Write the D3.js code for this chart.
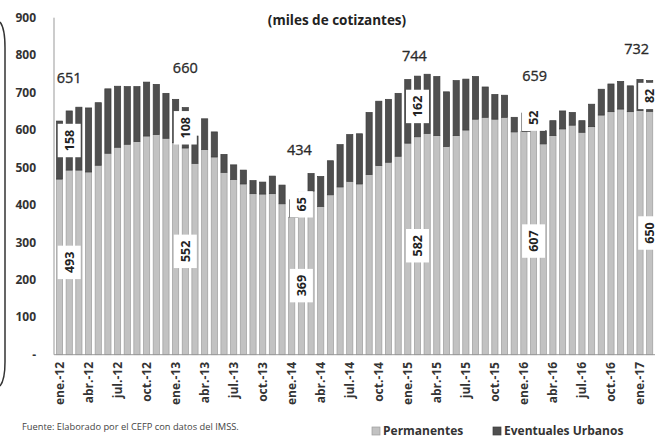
<!DOCTYPE html>
<html>
<head>
<meta charset="utf-8">
<script src="https://cdn.jsdelivr.net/npm/d3@7"></script>
<style>
body { margin: 0; background: #fff; }
svg { font-family: "Open Sans", "DejaVu Sans", sans-serif; }
</style>
</head>
<body>
<svg width="661" height="439"></svg>
<script>
//Months, ene.-12 to feb.-17
var meses = ["ene.-12","feb.-12","mar.-12","abr.-12","may.-12","jun.-12","jul.-12","ago.-12","sep.-12","oct.-12","nov.-12","dic.-12",
    "ene.-13","feb.-13","mar.-13","abr.-13","may.-13","jun.-13","jul.-13","ago.-13","sep.-13","oct.-13","nov.-13","dic.-13",
    "ene.-14","feb.-14","mar.-14","abr.-14","may.-14","jun.-14","jul.-14","ago.-14","sep.-14","oct.-14","nov.-14","dic.-14",
    "ene.-15","feb.-15","mar.-15","abr.-15","may.-15","jun.-15","jul.-15","ago.-15","sep.-15","oct.-15","nov.-15","dic.-15",
    "ene.-16","feb.-16","mar.-16","abr.-16","may.-16","jun.-16","jul.-16","ago.-16","sep.-16","oct.-16","nov.-16","dic.-16",
    "ene.-17","feb.-17"];

//Permanent workers (thousands)
var permanentes = [469,493,493,488,506,538,554,562,569,584,588,578,
    566,552,511,548,528,487,468,456,430,429,430,403,
    367,369,437,396,427,448,463,456,481,505,514,530,
    565,582,591,585,556,585,600,629,634,629,634,595,
    596,607,563,585,603,613,594,609,640,649,656,649,
    652,650];

//Urban temporary workers (thousands)
var eventuales = [155,158,168,171,167,172,163,154,147,144,134,120,
    116,108,73,82,67,48,39,37,35,32,47,50,
    0,65,47,80,91,113,125,134,166,172,168,168,
    170,162,158,158,146,147,136,114,81,66,59,39,
    0,52,35,40,48,34,31,60,69,74,74,69,
    83,82];

var yTicks = [0,100,200,300,400,500,600,700,800,900];

//Labelled months (February of each year)
var etiquetados = ["feb.-12","feb.-13","feb.-14","feb.-15","feb.-16","feb.-17"];
//shift of the total label from the bar top [dx, dy]
var desplazaTotal = [[0,-33],[0,-40],[-2,-42],[-3,-20],[1,-32],[-13,-32]];

var svg = d3.select("svg");

var x = d3.scaleBand()
    .domain(meses)
    .range([54.7, 654.5])
    .paddingInner(0.36)
    .paddingOuter(0.18);

var y = d3.scaleLinear()
    .domain([0, 900])
    .range([354.7, 17.7]);

var claro = "#c2c2c2", oscuro = "#4f4f4f";

//Rounded frame edge on the left
svg.append("path")
    .attr("d", "M0,22 Q5,28 5,48 L5,362 Q5,380 0,386")
    .attr("fill", "none")
    .attr("stroke", "#333")
    .attr("stroke-width", 1.5);

//Title
svg.append("text")
    .attr("x", 337)
    .attr("y", 25)
    .attr("text-anchor", "middle")
    .attr("font-size", "13.5px")
    .attr("font-weight", "bold")
    .attr("fill", "#222")
    .text("(miles de cotizantes)");

//Y axis labels
svg.append("g")
    .selectAll("text")
    .data(yTicks)
    .enter().append("text")
    .attr("x", 36)
    .attr("y", function (d) { return y(d); })
    .attr("dy", "0.35em")
    .attr("text-anchor", "end")
    .attr("font-size", "12px")
    .attr("font-weight", "bold")
    .attr("fill", "#333")
    .text(function (d) { return d === 0 ? "-" : d; });

//Bars
var barras = svg.append("g");
barras.selectAll(".perm")
    .data(meses)
    .enter().append("rect")
    .attr("class", "perm")
    .attr("x", function (d) { return x(d); })
    .attr("width", x.bandwidth())
    .attr("y", function (d, i) { return y(permanentes[i]); })
    .attr("height", function (d, i) { return y(0) - y(permanentes[i]); })
    .attr("fill", claro)
    .attr("stroke", "#9c9c9c")
    .attr("stroke-width", 0.7);

barras.selectAll(".even")
    .data(meses.filter(function (d, i) { return eventuales[i] > 0; }))
    .enter().append("rect")
    .attr("class", "even")
    .attr("x", function (d) { return x(d); })
    .attr("width", x.bandwidth())
    .attr("y", function (d) { var i = meses.indexOf(d); return y(permanentes[i] + eventuales[i]); })
    .attr("height", function (d) { var i = meses.indexOf(d); return y(permanentes[i]) - y(permanentes[i] + eventuales[i]); })
    .attr("fill", oscuro)
    .attr("stroke", "#3c3c3c")
    .attr("stroke-width", 0.7);

//Axis lines
svg.append("line")
    .attr("x1", 54).attr("x2", 54)
    .attr("y1", y(900)).attr("y2", y(0))
    .attr("stroke", "#999");
svg.append("line")
    .attr("x1", 54).attr("x2", 655)
    .attr("y1", y(0)).attr("y2", y(0))
    .attr("stroke", "#999");

//X axis labels, every three months
svg.append("g")
    .selectAll("text")
    .data(meses.filter(function (d, i) { return i % 3 === 0; }))
    .enter().append("text")
    .attr("transform", function (d) {
        return "translate(" + (x(d) + x.bandwidth() / 2) + ",362) rotate(-90)";
    })
    .attr("dy", "0.35em")
    .attr("text-anchor", "end")
    .attr("font-size", "12px")
    .attr("font-weight", "bold")
    .attr("fill", "#333")
    .text(function (d) { return d; });

//Leader lines for labels moved off their segment (ene.-14, ene.-16)
["ene.-14", "ene.-16"].forEach(function (m) {
    var i = meses.indexOf(m);
    var sig = meses[i + 1];
    var x0 = x(m) + 1;
    var yTop = (y(permanentes[i + 1]) + y(permanentes[i + 1] + eventuales[i + 1])) / 2 - 5;
    svg.append("path")
        .attr("d", "M" + x0 + "," + yTop + "V" + y(permanentes[i]) + "H" + (x(sig)))
        .attr("fill", "none")
        .attr("stroke", "#444")
        .attr("stroke-width", 0.8);
});

//Segment value boxes
function cajaValor(m, v0, v1) {
    var cx = x(m) + x.bandwidth() / 2;
    var cy = (y(v0) + y(v1)) / 2;
    var g = svg.append("g").attr("transform", "translate(" + cx + "," + cy + ") rotate(-90)");
    var r = g.append("rect").attr("fill", "#fff");
    var t = g.append("text")
        .attr("text-anchor", "middle")
        .attr("dy", "0.36em")
        .attr("font-size", "12.5px")
        .attr("font-weight", "bold")
        .attr("fill", "#222")
        .text(v1 - v0);
    var w = t.node().getComputedTextLength() + 12;
    r.attr("x", -w / 2).attr("y", -11.5).attr("width", w).attr("height", 23);
}

etiquetados.forEach(function (m, k) {
    var i = meses.indexOf(m);
    var p = permanentes[i], e = eventuales[i];
    cajaValor(m, 0, p);
    cajaValor(m, p, p + e);
    svg.append("text")
        .attr("x", x(m) + x.bandwidth() / 2 + desplazaTotal[k][0])
        .attr("y", y(p + e) + desplazaTotal[k][1])
        .attr("dy", "0.35em")
        .attr("text-anchor", "middle")
        .attr("font-size", "14.5px")
        .attr("fill", "#2a2a2a")
        .attr("stroke", "#2a2a2a")
        .attr("stroke-width", 0.3)
        .text(p + e);
});

//Source
svg.append("text")
    .attr("x", 22)
    .attr("y", 430)
    .attr("font-size", "9.3px")
    .attr("fill", "#444")
    .text("Fuente: Elaborado por el CEFP con datos del IMSS.");

//Legend
var leyenda = [["Permanentes", claro, "#9c9c9c", 372], ["Eventuales Urbanos", oscuro, "#3c3c3c", 493]];
var lg = svg.append("g").selectAll("g")
    .data(leyenda)
    .enter().append("g")
    .attr("transform", function (d) { return "translate(" + d[3] + ",431)"; });
lg.append("rect")
    .attr("x", 0).attr("y", -4)
    .attr("width", 8).attr("height", 8)
    .attr("fill", function (d) { return d[1]; })
    .attr("stroke", function (d) { return d[2]; })
    .attr("stroke-width", 0.7);
lg.append("text")
    .attr("x", 11)
    .attr("dy", "0.35em")
    .attr("font-size", "12px")
    .attr("font-weight", "bold")
    .attr("fill", "#333")
    .text(function (d) { return d[0]; });
</script>
</body>
</html>
